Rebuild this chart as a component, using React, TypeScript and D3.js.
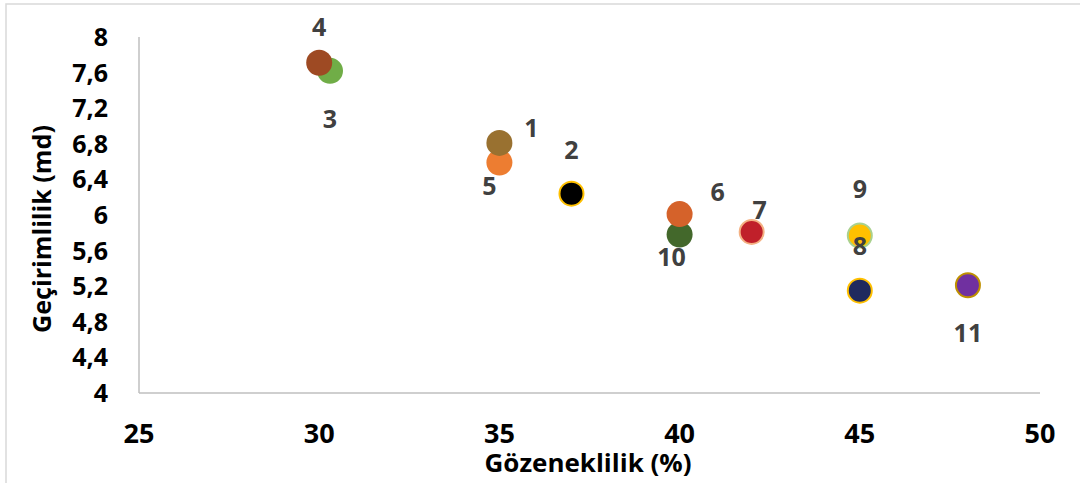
import { useEffect, useRef } from 'react';
import * as d3 from 'd3';

// sample numbers (labels) and measured values
const pointIds = ['1', '2', '3', '4', '5', '6', '7', '8', '9', '10', '11'];
const porosity = [35, 37, 30.3, 30, 35, 40, 42, 45, 45, 40, 48];
const permeability = [6.81, 6.24, 7.62, 7.71, 6.59, 6.01, 5.81, 5.15, 5.77, 5.78, 5.21];

const xTicks = [25, 30, 35, 40, 45, 50];
const yTicks = [4, 4.4, 4.8, 5.2, 5.6, 6, 6.4, 6.8, 7.2, 7.6, 8];

// styling per point: fill, stroke
const fills = ['#997130', '#000000', '#70AD47', '#9E4A23', '#ED7D31', '#D5622A', '#C0202A', '#1F2A5E', '#FFC000', '#43682B', '#7030A0'];
const strokes = [null, '#FFC000', null, null, null, null, '#F4B183', '#FFC000', '#A9D18E', null, '#BF9000'];
// label offsets from point centre, px
const labelOffsets: [number, number][] = [
    [32, -15], [0, -44], [0, 48], [0, -36], [-10, 24], [38, -22],
    [8, -22], [0, -45], [0, -46], [-8, 22], [0, 48]
];

const W = 1080;
const H = 483;
const FONT = "'Open Sans', sans-serif";

const App = () => {
    const svgRef = useRef<SVGSVGElement>(null);

    useEffect(() => {
        const svg = d3.select(svgRef.current);
        svg.selectAll('*').remove();

        const x = d3.scaleLinear().domain([25, 50]).range([139, 1040]);
        const y = d3.scaleLinear().domain([4, 8]).range([393, 37]);

        svg.append('rect')
            .attr('x', 6).attr('y', 4)
            .attr('width', W + 20).attr('height', H + 20)
            .attr('fill', 'white')
            .attr('stroke', '#d9d9d9')
            .attr('stroke-width', 1.5);

        // axis lines
        svg.append('line')
            .attr('x1', x(25)).attr('x2', x(25))
            .attr('y1', y(8)).attr('y2', y(4))
            .attr('stroke', '#bfbfbf').attr('stroke-width', 1.5);
        svg.append('line')
            .attr('x1', x(25)).attr('x2', x(50))
            .attr('y1', y(4)).attr('y2', y(4))
            .attr('stroke', '#bfbfbf').attr('stroke-width', 1.5);

        svg.append('g')
            .selectAll('text')
            .data(xTicks)
            .join('text')
            .attr('x', d => x(d))
            .attr('y', 443)
            .attr('text-anchor', 'middle')
            .attr('font-family', FONT)
            .attr('font-weight', 700)
            .attr('font-size', 27)
            .attr('fill', '#000')
            .text(d => String(d));

        svg.append('g')
            .selectAll('text')
            .data(yTicks)
            .join('text')
            .attr('x', 108)
            .attr('y', d => y(d) + 9)
            .attr('text-anchor', 'end')
            .attr('font-family', FONT)
            .attr('font-weight', 700)
            .attr('font-size', 25)
            .attr('fill', '#000')
            .text(d => String(+d.toFixed(1)).replace('.', ','));

        svg.append('text')
            .attr('x', 588)
            .attr('y', 472)
            .attr('text-anchor', 'middle')
            .attr('font-family', FONT)
            .attr('font-weight', 700)
            .attr('font-size', 25)
            .attr('textLength', 207)
            .attr('lengthAdjust', 'spacingAndGlyphs')
            .text('Gözeneklilik (%)');

        svg.append('text')
            .attr('transform', 'translate(51,229) rotate(-90)')
            .attr('text-anchor', 'middle')
            .attr('font-family', FONT)
            .attr('font-weight', 700)
            .attr('font-size', 25)
            .attr('textLength', 208)
            .attr('lengthAdjust', 'spacingAndGlyphs')
            .text('Geçirimlilik (md)');

        const idx = d3.range(pointIds.length);
        // draw order so overlaps match (3 under 4, 5 under 1, 10 under 6)
        const order = [2, 3, 4, 0, 1, 9, 5, 6, 8, 7, 10];

        svg.append('g')
            .selectAll('circle')
            .data(order)
            .join('circle')
            .attr('cx', i => x(porosity[i]))
            .attr('cy', i => y(permeability[i]))
            .attr('r', i => (strokes[i] ? 12 : 13))
            .attr('fill', i => fills[i])
            .attr('stroke', i => strokes[i] || 'none')
            .attr('stroke-width', 2);

        svg.append('g')
            .selectAll('text')
            .data(idx)
            .join('text')
            .attr('x', i => x(porosity[i]) + labelOffsets[i][0])
            .attr('y', i => y(permeability[i]) + labelOffsets[i][1] + 9)
            .attr('text-anchor', 'middle')
            .attr('font-family', FONT)
            .attr('font-weight', 700)
            .attr('font-size', 25)
            .attr('fill', '#404040')
            .text(i => pointIds[i]);
    }, []);

    return (
        <svg
            ref={svgRef}
            width={W}
            height={H}
            style={{ position: 'absolute', left: 0, top: 0, display: 'block' }}
        />
    );
};

export default App;
